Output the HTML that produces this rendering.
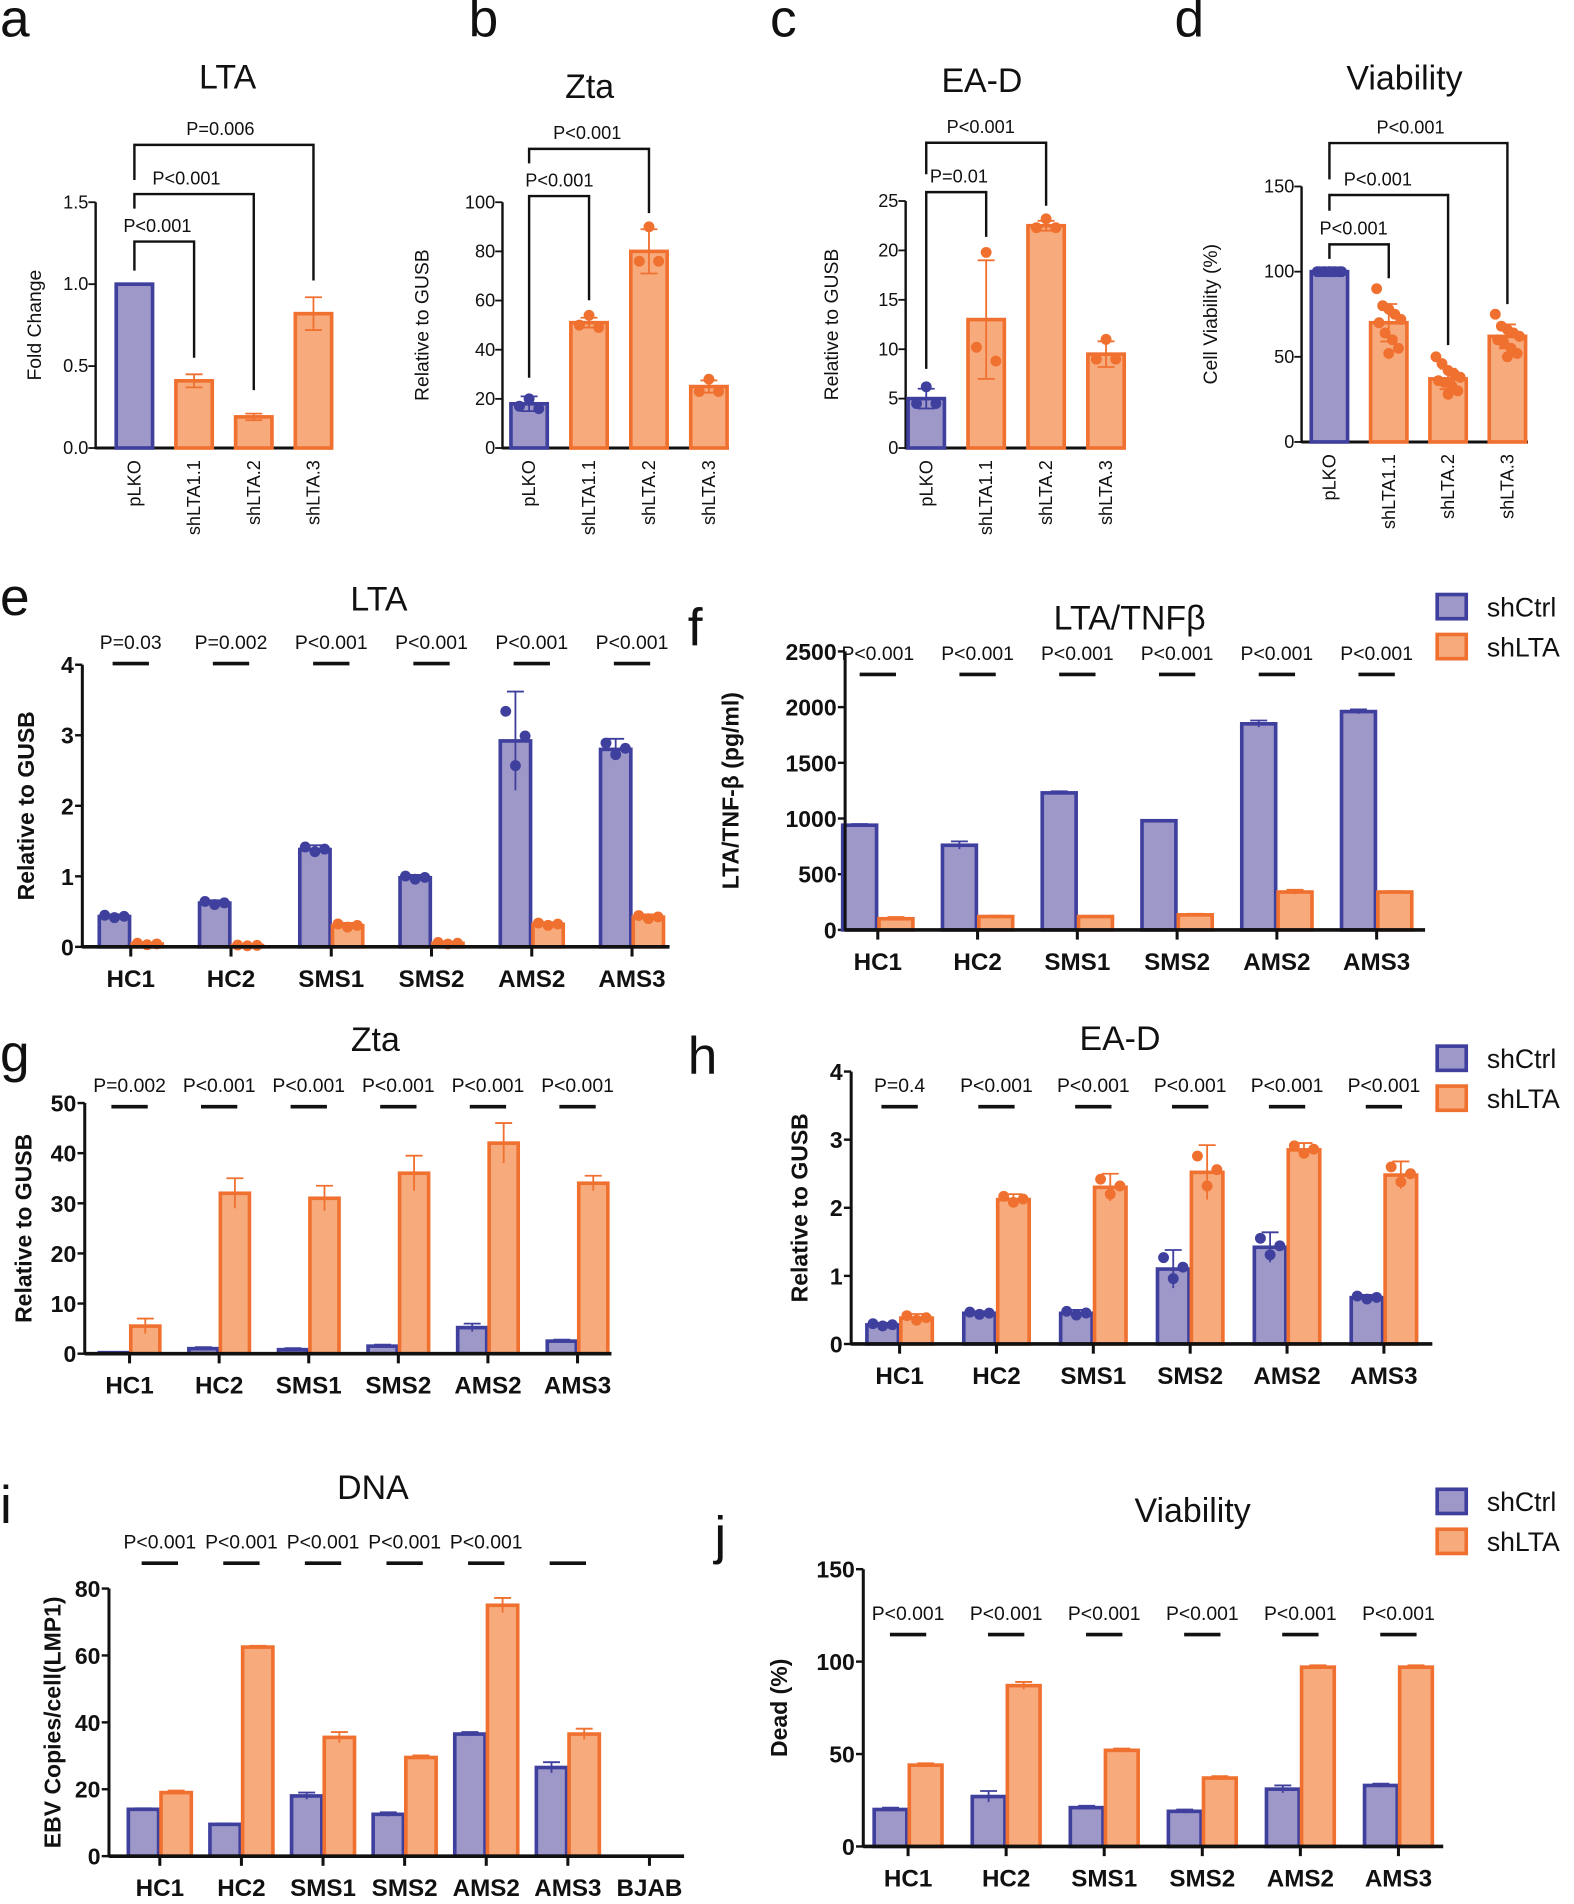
<!DOCTYPE html>
<html><head><meta charset="utf-8">
<style>
html,body{margin:0;padding:0;background:#fff;}
svg{display:block;font-family:"Liberation Sans",Arial,sans-serif;}
</style></head>
<body>
<svg id="fig" xmlns="http://www.w3.org/2000/svg" width="1574" height="1904" viewBox="0 0 1300 1572.5"></svg>
<script>
// ---------- DATA ----------
const topCats = ["pLKO","shLTA1.1","shLTA.2","shLTA.3"];
const aVals = [1.0,0.41,0.19,0.82];
const aErrs = [0,0.04,0.02,0.1];
const aDots = [[],[],[],[]];
const bVals = [18,51,80,25];
const bErrs = [3,2,9,2.5];
const bDots = [[20,17,16],[54,50,49],[90,76,76],[28,23,23]];
const cVals = [5,13,22.5,9.5];
const cErrs = [1,6,0.5,1.3];
const cDots = [[6.2,4.5,4.5],[19.8,10.2,8.8],[23.2,22.3,22.3],[11,9,9]];
const dVals = [100,70,37,62];
const dErrs = [1,11,6,7];
const dDots = [[100,100,100,100,100,100,100,100,100,100],[90,80,78,75,72,70,64,60,55,52],[50,46,42,40,38,36,35,33,30,28],[75,68,66,64,62,60,58,55,52,50]];

const grpCats6 = ["HC1","HC2","SMS1","SMS2","AMS2","AMS3"];
const grpCats7 = ["HC1","HC2","SMS1","SMS2","AMS2","AMS3","BJAB"];
const eCtrl = [0.43,0.62,1.38,0.98,2.92,2.8];
const eSh = [0.04,0.02,0.3,0.05,0.32,0.42];
const eCtrlErr = [0.03,0.04,0.06,0.04,0.7,0.15];
const eShErr = [0.02,0.01,0.04,0.02,0.03,0.04];
const eP = ["P=0.03","P=0.002","P<0.001","P<0.001","P<0.001","P<0.001"];
const fCtrl = [940,760,1230,980,1850,1960];
const fSh = [100,120,120,135,340,340];
const fCtrlErr = [10,35,15,8,30,20];
const fShErr = [15,8,5,10,20,8];
const fP = ["P<0.001","P<0.001","P<0.001","P<0.001","P<0.001","P<0.001"];
const gCtrl = [0.2,1,0.8,1.5,5.2,2.5];
const gSh = [5.5,32,31,36,42,34];
const gCtrlErr = [0.1,0.3,0.3,0.3,0.8,0.3];
const gShErr = [1.5,3,2.5,3.5,4,1.5];
const gP = ["P=0.002","P<0.001","P<0.001","P<0.001","P<0.001","P<0.001"];
const hCtrl = [0.28,0.45,0.45,1.1,1.42,0.68];
const hSh = [0.38,2.12,2.3,2.52,2.85,2.48];
const hCtrlErr = [0.03,0.03,0.05,0.28,0.22,0.04];
const hShErr = [0.06,0.08,0.2,0.4,0.1,0.2];
const hP = ["P=0.4","P<0.001","P<0.001","P<0.001","P<0.001","P<0.001"];
const iCtrl = [14,9.5,18,12.5,36.5,26.5,0];
const iSh = [19,62.5,35.5,29.5,75,36.5,0];
const iCtrlErr = [0.3,0.3,1,0.6,0.6,1.6,0];
const iShErr = [0.6,0.4,1.6,0.6,2.2,1.6,0];
const iP = ["P<0.001","P<0.001","P<0.001","P<0.001","P<0.001","",""];
const jCtrl = [20,27,21,19,31,33];
const jSh = [44,87,52,37,97,97];
const jCtrlErr = [1,3,1,1,2,1];
const jShErr = [1,2,1,1,1,1];
const jP = ["P<0.001","P<0.001","P<0.001","P<0.001","P<0.001","P<0.001"];

// ---------- HELPERS ----------
const NS="http://www.w3.org/2000/svg";
const svg=document.getElementById('fig');
const BF="#9d98c8",BS="#3f3f9e",OF="#f7ab7c",OS="#f07030";
function el(tag,attrs,parent){const e=document.createElementNS(NS,tag);for(const k in attrs)e.setAttribute(k,attrs[k]);(parent||svg).appendChild(e);return e;}
function txt(s,x,y,size,opts,parent){opts=opts||{};const t=el('text',{x:x,y:y,'font-size':size,'text-anchor':opts.anchor||'middle',fill:'#111'},parent);if(opts.bold)t.setAttribute('font-weight','bold');if(opts.rot)t.setAttribute('transform','rotate(-90 '+x+' '+y+')');t.textContent=s;return t;}

function panelLetter(ch,x,y,g){const t=txt(ch,x,y,44,{anchor:'start'},g);}

function yScale(max,top,bot){return v=>bot-(v/max)*(bot-top);}

function topChart(o){
  const g=el('g',{});
  
  
  panelLetter(o.id,o.letterX,30,g);
  const tt=txt(o.title,o.titleX,o.titleY,28,{},g);
  
  const ys=yScale(o.max,o.top,o.bot);
  const xs=i=>o.ax+o.off+i*o.step;
  const ya=el('line',{x1:o.ax,y1:o.top,x2:o.ax,y2:o.bot+1,stroke:'#111','stroke-width':2},g);
  
  const xa=el('line',{x1:o.ax,y1:o.bot,x2:o.axEnd,y2:o.bot,stroke:'#111','stroke-width':2.5},g);
  
  o.ticks.forEach((t,k)=>{const y=ys(t);
    el('line',{x1:o.ax-6,y1:y,x2:o.ax,y2:y,stroke:'#111','stroke-width':1.5},g);
    const tl=txt(o.tickLabels[k],o.ax-6,y+5,15,{anchor:'end'},g);
    });
  const yl=txt(o.ylabel,o.ylx,(o.top+o.bot)/2,16,{rot:true},g);
  
  o.vals.forEach((v,i)=>{
    const cx=xs(i),blue=i===0,w=o.bw;
    const r=el('rect',{x:cx-w/2,y:ys(v),width:w,height:o.bot-ys(v),fill:blue?BF:OF,stroke:blue?BS:OS,'stroke-width':3},g);
    
    const e=o.errs[i],sc=blue?BS:OS;
    if(e>0){el('line',{x1:cx,y1:ys(v+e),x2:cx,y2:ys(v-e),stroke:sc,'stroke-width':1.5},g);
      el('line',{x1:cx-7,y1:ys(v+e),x2:cx+7,y2:ys(v+e),stroke:sc,'stroke-width':1.5},g);
      el('line',{x1:cx-7,y1:ys(v-e),x2:cx+7,y2:ys(v-e),stroke:sc,'stroke-width':1.5},g);}
    const ds=o.dots[i];const jit=ds.length===3?[0,-8,8]:[-10,-5,0,5,10,-8,-3,3,8,0];
    ds.forEach((d,k)=>{const c=el('circle',{cx:cx+jit[k%jit.length],cy:ys(d),r:4.5,fill:sc},g);
      });
    const xl=txt(topCats[i],cx+5,o.bot+10,15,{anchor:'end',rot:true},g);
    
  });
  o.brackets.forEach(b=>{
    const x1=xs(0),x2=xs(b.to),y=ys(b.level);
    const p=el('path',{d:`M${x1},${y+b.l} V${y} H${x2} V${y+b.r}`,fill:'none',stroke:'#111','stroke-width':2},g);
    
    const pl=txt(b.label,b.lx!==undefined?b.lx:(x1+x2)/2,y-8,15,{},g);
    
  });
}

function grpChart(o){
  const g=el('g',{});
  
  
  panelLetter(o.id,o.letterX,o.letterY,g);
  const tt=txt(o.title,o.titleX,o.titleY,28,{},g);
  
  const ys=yScale(o.max,o.top,o.bot);
  const xs=i=>o.ax+o.off+i*o.step;
  o.ticks.forEach((t,k)=>{const y=ys(t);
    el('line',{x1:o.ax-6,y1:y,x2:o.ax,y2:y,stroke:'#111','stroke-width':2},g);
    const tl=txt(o.tickLabels[k],o.ax-7,y+7,19,{anchor:'end',bold:true},g);
    });
  const yl=txt(o.ylabel,o.ylx,(o.top+o.bot)/2,19,{rot:true,bold:true},g);
  
  const w=o.bw;
  o.cats.forEach((c,i)=>{
    const cx=xs(i);
    [[o.ctrl,o.ctrlErr,BF,BS,-1,'shCtrl'],[o.sh,o.shErr,OF,OS,1,'shLTA']].forEach(s=>{
      const v=s[0][i],e=s[1][i];if(v<=0)return;
      const bx=s[4]<0?cx-w-1:cx+1,bc=bx+w/2;
      const r=el('rect',{x:bx,y:ys(v),width:w,height:o.bot-ys(v),fill:s[2],stroke:s[3],'stroke-width':3},g);
      
      el('line',{x1:bc,y1:ys(v+e),x2:bc,y2:ys(Math.max(0,v-e)),stroke:s[3],'stroke-width':1.5},g);
      el('line',{x1:bc-7,y1:ys(v+e),x2:bc+7,y2:ys(v+e),stroke:s[3],'stroke-width':1.5},g);
      if(o.dotsOn){[-8,0,8].forEach((j,k)=>{const dv=k===0?v+e*0.6:(k===1?v-e*0.5:v+e*0.1);
        const d=el('circle',{cx:bc+j,cy:ys(dv),r:4.5,fill:s[3]},g);
        });}
    });
    el('line',{x1:cx,y1:o.bot,x2:cx,y2:o.bot+8,stroke:'#111','stroke-width':2.5},g);
    const xl=txt(c,cx,o.bot+33,20,{bold:true},g);
    
    if(i<o.pLines){
      el('line',{x1:cx-15,y1:o.pLineY,x2:cx+15,y2:o.pLineY,stroke:'#111','stroke-width':3},g);
      if(o.p[i]){const pl=txt(o.p[i],cx,o.pLineY-12,16,{},g);
        }
    }
  });
  const ya=el('line',{x1:o.ax,y1:o.top,x2:o.ax,y2:o.bot+1,stroke:'#111','stroke-width':2.5},g);
  
  const xa=el('line',{x1:o.ax,y1:o.bot,x2:o.axEnd,y2:o.bot,stroke:'#111','stroke-width':3},g);
  
}

function legend(y){
  const g=el('g',{});
  
  [['shCtrl',BF,BS,0],['shLTA',OF,OS,33]].forEach(l=>{
    const r=el('rect',{x:1187,y:y+l[3]-10,width:24,height:20,fill:l[1],stroke:l[2],'stroke-width':3},g);
    
    const t=txt(l[0],1228,y+l[3]+8,22,{anchor:'start'},g);
    
  });
}

// ---------- PANELS ----------
topChart({id:'a',letterX:0,title:'LTA',titleX:188,titleY:73,ax:79,axEnd:272,off:32,step:49.3,bw:30,top:167,bot:370,max:1.5,
  ticks:[0,0.5,1,1.5],tickLabels:['0.0','0.5','1.0','1.5'],ylabel:'Fold Change',ylx:34,
  vals:aVals,errs:aErrs,dots:aDots,
  brackets:[{to:1,level:1.26,label:'P<0.001',l:24,r:96,lx:130},{to:2,level:1.55,label:'P<0.001',l:12,r:162,lx:154},{to:3,level:1.85,label:'P=0.006',l:29,r:112,lx:182}]});
topChart({id:'b',letterX:387,title:'Zta',titleX:487,titleY:81,ax:415,axEnd:602,off:22,step:49.5,bw:30,top:167,bot:370,max:100,
  ticks:[0,20,40,60,80,100],tickLabels:['0','20','40','60','80','100'],ylabel:'Relative to GUSB',ylx:354,
  vals:bVals,errs:bErrs,dots:bDots,
  brackets:[{to:1,level:102.5,label:'P<0.001',l:150,r:86,lx:462},{to:2,level:121.7,label:'P<0.001',l:12,r:53,lx:485}]});
topChart({id:'c',letterX:636,title:'EA-D',titleX:811,titleY:76,ax:748,axEnd:920,off:17,step:49.5,bw:30,top:166,bot:370,max:25,
  ticks:[0,5,10,15,20,25],tickLabels:['0','5','10','15','20','25'],ylabel:'Relative to GUSB',ylx:692,
  vals:cVals,errs:cErrs,dots:cDots,
  brackets:[{to:1,level:25.9,label:'P=0.01',l:146,r:37,lx:792},{to:2,level:30.9,label:'P<0.001',l:26,r:52,lx:810}]});
topChart({id:'d',letterX:970,title:'Viability',titleX:1160,titleY:74,ax:1075,axEnd:1262,off:23,step:49,bw:30,top:154,bot:365,max:150,
  ticks:[0,50,100,150],tickLabels:['0','50','100','150'],ylabel:'Cell Viability (%)',ylx:1005,
  vals:dVals,errs:dErrs,dots:dDots,
  brackets:[{to:1,level:116,label:'P<0.001',l:12,r:28,lx:1118},{to:2,level:145,label:'P<0.001',l:13,r:124,lx:1138},{to:3,level:175.5,label:'P<0.001',l:30,r:133,lx:1165}]});

grpChart({id:'e',letterX:0,letterY:508,title:'LTA',titleX:313,titleY:504,ax:68,axEnd:553,off:40,step:82.8,bw:25,top:549,bot:782,max:4,
  ticks:[0,1,2,3,4],tickLabels:['0','1','2','3','4'],ylabel:'Relative to GUSB',ylx:28,cats:grpCats6,
  ctrl:eCtrl,sh:eSh,ctrlErr:eCtrlErr,shErr:eShErr,p:eP,pLines:6,pLineY:548,dotsOn:true});
grpChart({id:'f',letterX:568,letterY:533,title:'LTA/TNFβ',titleX:933,titleY:520,ax:698,axEnd:1177,off:27,step:82.4,bw:28,top:538,bot:768,max:2500,
  ticks:[0,500,1000,1500,2000,2500],tickLabels:['0','500','1000','1500','2000','2500'],ylabel:'LTA/TNF-β (pg/ml)',ylx:610,cats:grpCats6,
  ctrl:fCtrl,sh:fSh,ctrlErr:fCtrlErr,shErr:fShErr,p:fP,pLines:6,pLineY:557,dotsOn:false});
legend(501);
grpChart({id:'g',letterX:0,letterY:885,title:'Zta',titleX:310,titleY:868,ax:70,axEnd:505,off:37,step:74,bw:24,top:911,bot:1118,max:50,
  ticks:[0,10,20,30,40,50],tickLabels:['0','10','20','30','40','50'],ylabel:'Relative to GUSB',ylx:26,cats:grpCats6,
  ctrl:gCtrl,sh:gSh,ctrlErr:gCtrlErr,shErr:gShErr,p:gP,pLines:6,pLineY:914,dotsOn:false});
grpChart({id:'h',letterX:568,letterY:887,title:'EA-D',titleX:925,titleY:867,ax:703,axEnd:1183,off:40,step:80,bw:26,top:885,bot:1110,max:4,
  ticks:[0,1,2,3,4],tickLabels:['0','1','2','3','4'],ylabel:'Relative to GUSB',ylx:667,cats:grpCats6,
  ctrl:hCtrl,sh:hSh,ctrlErr:hCtrlErr,shErr:hShErr,p:hP,pLines:6,pLineY:914,dotsOn:true});
legend(874);
grpChart({id:'i',letterX:0,letterY:1258,title:'DNA',titleX:308,titleY:1238,ax:90,axEnd:565,off:42,step:67.4,bw:25,top:1312,bot:1533,max:80,
  ticks:[0,20,40,60,80],tickLabels:['0','20','40','60','80'],ylabel:'EBV Copies/cell(LMP1)',ylx:50,cats:grpCats7,
  ctrl:iCtrl,sh:iSh,ctrlErr:iCtrlErr,shErr:iShErr,p:iP,pLines:6,pLineY:1291,dotsOn:false});
grpChart({id:'j',letterX:590,letterY:1283,title:'Viability',titleX:985,titleY:1257,ax:713,axEnd:1192,off:37,step:81,bw:27,top:1296,bot:1525,max:150,
  ticks:[0,50,100,150],tickLabels:['0','50','100','150'],ylabel:'Dead (%)',ylx:650,cats:grpCats6,
  ctrl:jCtrl,sh:jSh,ctrlErr:jCtrlErr,shErr:jShErr,p:jP,pLines:6,pLineY:1350,dotsOn:false});
legend(1240);
</script>
</body></html>
